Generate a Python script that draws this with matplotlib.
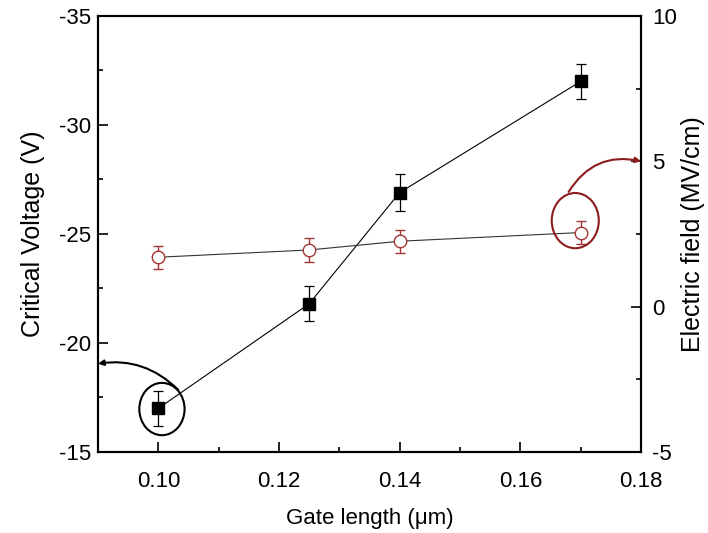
import matplotlib
matplotlib.use("Agg")
import matplotlib.pyplot as plt
from matplotlib.patches import Ellipse
from matplotlib.ticker import MultipleLocator

plt.rcParams["font.family"] = "Liberation Sans"
plt.rcParams["font.size"] = 15
plt.rcParams["axes.unicode_minus"] = False

# data
gate_len = [0.10, 0.125, 0.14, 0.17]
v_crit = [-17.0, -21.8, -26.9, -32.0]
v_err = [0.8, 0.8, 0.85, 0.8]
e_field = [1.7, 1.95, 2.25, 2.55]
e_err = [0.4, 0.4, 0.4, 0.4]

red = "#a33535"
dark_red = "#8c1c1c"

fig = plt.figure(figsize=(7.08, 5.33), dpi=100)
ax = fig.add_axes([0.1384, 0.152, 0.767, 0.818])
ax2 = ax.twinx()

# 臨界電圧 (左軸)
ax.errorbar(gate_len, v_crit, yerr=v_err, fmt="s-", color="black", ms=8.5,
            lw=0.8, elinewidth=0.9, capsize=3.5, capthick=0.9, zorder=3)
# 電界 (右軸)
ax2.errorbar(gate_len, e_field, yerr=e_err, fmt="-", color="#333333", lw=0.8,
             ecolor=red, elinewidth=1.0, capsize=3.5, capthick=1.0, zorder=2)
ax2.plot(gate_len, e_field, "o", ms=9, mfc="white", mec=red, mew=1.0, zorder=3)

ax.set_xlim(0.09, 0.18)
ax.set_ylim(-15, -35)
ax2.set_ylim(-5, 10)

ax.xaxis.set_major_locator(MultipleLocator(0.02))
ax.xaxis.set_minor_locator(MultipleLocator(0.01))
ax.yaxis.set_major_locator(MultipleLocator(5))
ax.yaxis.set_minor_locator(MultipleLocator(2.5))
ax2.yaxis.set_major_locator(MultipleLocator(5))
ax2.yaxis.set_minor_locator(MultipleLocator(2.5))
ax.xaxis.set_major_formatter(plt.FuncFormatter(lambda v, p: f"{v:.2f}"))

for a in (ax, ax2):
    a.tick_params(which="major", direction="in", length=7, width=1.2, labelsize=16)
    a.tick_params(which="minor", direction="in", length=3.5, width=1.2)
    for s in a.spines.values():
        s.set_linewidth(1.5)
ax.tick_params(which="both", top=False, right=False)
ax.tick_params(axis="x", pad=14)
ax.tick_params(axis="y", pad=5)
ax2.tick_params(which="both", left=False, top=False)
ax2.tick_params(axis="y", pad=8)

ax.set_xlabel("Gate length (\u03bcm)", fontsize=16, labelpad=11)
ax.set_ylabel("Critical Voltage (V)", fontsize=18, labelpad=10)
ax2.set_ylabel("Electric field (MV/cm)", fontsize=18, labelpad=3)

# 注釈の楕円と矢印
ax.add_patch(Ellipse((0.1006, -16.97), 0.0075, 2.4, fill=False, lw=1.5,
                     ec="black", zorder=4))
ax.annotate("", xy=(0.09, -19.05), xytext=(0.1033, -17.85),
            arrowprops=dict(arrowstyle="-|>", color="black", lw=1.5,
                            mutation_scale=8, shrinkA=0, shrinkB=0,
                            connectionstyle="arc3,rad=0.25"))
ax2.add_patch(Ellipse((0.1691, 2.96), 0.0078, 1.9, fill=False, lw=1.5,
                      ec=dark_red, zorder=4))
ax2.annotate("", xy=(0.18, 5.0), xytext=(0.168, 3.95),
             arrowprops=dict(arrowstyle="-|>", color=dark_red, lw=1.5,
                             mutation_scale=8, shrinkA=0, shrinkB=0,
                             connectionstyle="arc3,rad=-0.35"))

fig.savefig("out.png", dpi=100)
